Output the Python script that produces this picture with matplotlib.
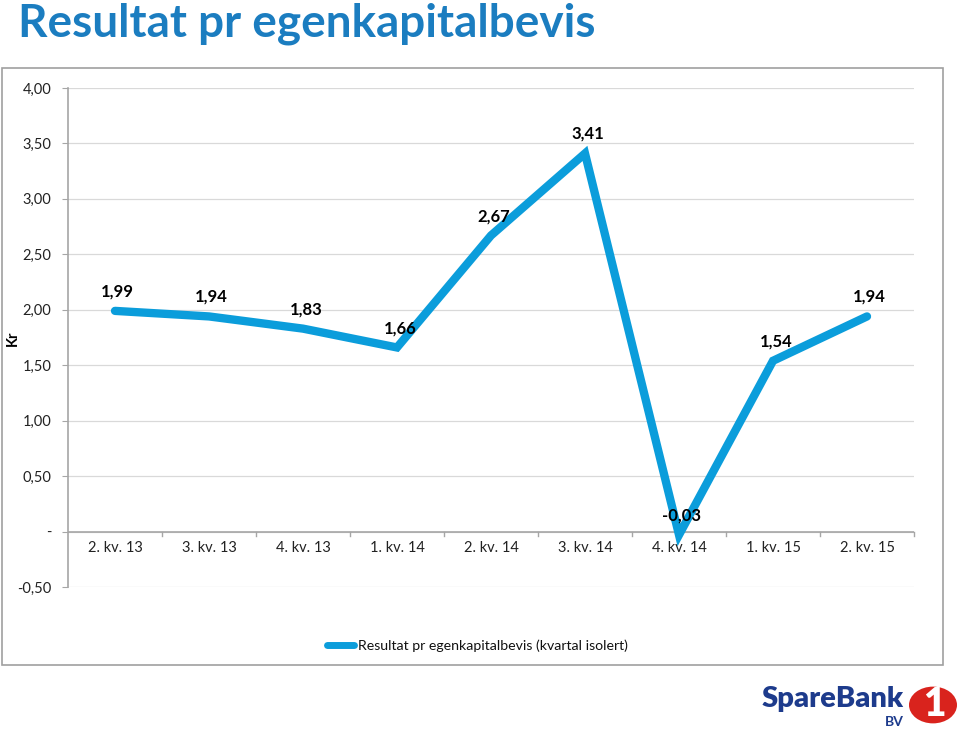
import matplotlib
matplotlib.use('agg')
from matplotlib import pyplot as plt
from matplotlib.patches import Rectangle, Circle
from matplotlib.lines import Line2D

plt.rcParams['font.family'] = ['Lato', 'DejaVu Sans']

quarters = ["2. kv. 13", "3. kv. 13", "4. kv. 13", "1. kv. 14", "2. kv. 14",
            "3. kv. 14", "4. kv. 14", "1. kv. 15", "2. kv. 15"]
result = [1.99, 1.94, 1.83, 1.66, 2.67, 3.41, -0.03, 1.54, 1.94]
y_ticks = [-0.5, 0, 0.5, 1.0, 1.5, 2.0, 2.5, 3.0, 3.5, 4.0]
series_name = "Resultat pr egenkapitalbevis (kvartal isolert)"

LINE_C = '#0b9ddb'
TITLE_C = '#1b7dc0'
GRID_C = '#d9d9d9'
AXIS_C = '#a6a6a6'

W, H = 960, 735
fig = plt.figure(figsize=(W / 100, H / 100), dpi=100)

def fx(px): return px / W
def fy(py): return 1 - py / H

# outer chart frame
fig.patches.append(Rectangle((fx(2), fy(665)), fx(943) - fx(2), fy(68) - fy(665),
                             transform=fig.transFigure, fill=False, edgecolor='#a0a0a0', lw=1.2))

fig.text(fx(18), fy(24), "Resultat pr egenkapitalbevis", fontsize=33, fontweight='bold',
         color=TITLE_C, va='center', ha='left')

ax = fig.add_axes([fx(68), fy(587), fx(914) - fx(68), fy(88) - fy(587)])
x = list(range(len(quarters)))
ax.plot(x, result, color=LINE_C, lw=6, solid_capstyle='round', solid_joinstyle='miter', zorder=3)

for xi, v in zip(x, result):
    ax.annotate(f"{v:.2f}".replace('.', ','), (xi, v), xytext=(2, 14), textcoords='offset points',
                ha='center', va='center', fontsize=12, fontweight='bold', zorder=4)

ax.set_xlim(-0.5, len(quarters) - 0.5)
ax.set_ylim(-0.5, 4.0)
ax.set_yticks(y_ticks)
ax.set_yticklabels(["-" if t == 0 else f"{t:.2f}".replace('.', ',') for t in y_ticks],
                   fontsize=10.5, color='#222222')
ax.yaxis.grid(True, color=GRID_C, lw=0.9)
ax.set_axisbelow(True)
ax.tick_params(axis='y', length=4, color=AXIS_C, pad=8)

for s in ['top', 'right', 'bottom']:
    ax.spines[s].set_visible(False)
ax.spines['left'].set_color(AXIS_C)
ax.spines['left'].set_linewidth(1.2)

# category axis at zero
ax.axhline(0, color=AXIS_C, lw=1.2, zorder=2)
ax.set_xticks([])
for b in [i + 0.5 for i in x[:-1]] + [len(quarters) - 0.5]:
    ax.plot([b, b], [0, -0.04], color=AXIS_C, lw=1, clip_on=False, zorder=2)
for xi, q in zip(x, quarters):
    ax.text(xi, -0.15, q, ha='center', va='center', fontsize=10.5, color='#222222')

fig.text(fx(13), fy(338), "Kr", rotation=90, fontsize=10.5, fontweight='bold',
         va='center', ha='center')

# legend
fig.lines.append(Line2D([fx(327), fx(354)], [fy(645), fy(645)], transform=fig.transFigure,
                        color=LINE_C, lw=5, solid_capstyle='round'))
fig.text(fx(358), fy(646), series_name, fontsize=10.2, va='center', ha='left', color='#111111')

# logo
fig.text(fx(762), fy(699), "SpareBank", fontsize=21, fontweight='heavy', color='#1d3b8c',
         va='center', ha='left')
fig.text(fx(904), fy(722), "BV", fontsize=10, fontweight='bold', color='#1d3b8c',
         va='center', ha='right')
fig.patches.append(Circle((fx(933), fy(705)), 24 / W, transform=fig.transFigure,
                          facecolor='#d9231d', edgecolor='none'))
fig.text(fx(934), fy(705), "1", fontsize=28, fontweight='heavy', color='white',
         va='center', ha='center')

fig.savefig("out.png", dpi=100)
